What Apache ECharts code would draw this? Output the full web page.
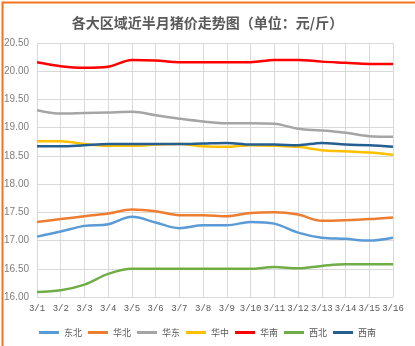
<!DOCTYPE html>
<html>
<head>
<meta charset="utf-8">
<script src="https://cdn.jsdelivr.net/npm/echarts@6/dist/echarts.min.js"></script>
<style>
  html, body { margin: 0; padding: 0; background: #fff; }
  #chart { width: 415px; height: 346px; }
</style>
</head>
<body>
<div id="chart"></div>
<script>
// Dates along the horizontal axis
const dates = ['3/1','3/2','3/3','3/4','3/5','3/6','3/7','3/8','3/9','3/10','3/11','3/12','3/13','3/14','3/15','3/16'];

// Pig price (yuan per jin) by region
const dongbei = [17.07,17.16,17.26,17.29,17.42,17.32,17.22,17.27,17.27,17.33,17.30,17.14,17.05,17.03,17.00,17.05];
const huabei  = [17.33,17.38,17.43,17.48,17.55,17.52,17.45,17.45,17.43,17.49,17.50,17.46,17.35,17.36,17.38,17.41];
const huadong = [19.31,19.25,19.26,19.27,19.28,19.22,19.16,19.11,19.08,19.08,19.07,18.98,18.95,18.91,18.85,18.84];
const huazhong= [18.76,18.76,18.71,18.68,18.68,18.70,18.71,18.67,18.66,18.69,18.68,18.66,18.60,18.58,18.56,18.52];
const huanan  = [20.16,20.09,20.06,20.08,20.20,20.19,20.16,20.16,20.16,20.16,20.20,20.20,20.17,20.15,20.13,20.13];
const xibei   = [16.09,16.12,16.22,16.41,16.50,16.50,16.50,16.50,16.50,16.50,16.53,16.51,16.55,16.58,16.58,16.58];
const xinan   = [18.67,18.67,18.69,18.71,18.71,18.71,18.71,18.72,18.73,18.70,18.70,18.69,18.73,18.70,18.69,18.66];

const regionNames = ['东北','华北','华东','华中','华南','西北','西南'];
const regionData = [dongbei, huabei, huadong, huazhong, huanan, xibei, xinan];
const regionColors = ['#5B9BD5','#ED7D31','#A5A5A5','#FFC000','#FF0000','#70AD47','#255E91'];

const chart = echarts.init(document.getElementById('chart'), null, { renderer: 'canvas' });

chart.setOption({
  animation: false,
  backgroundColor: '#fff',
  title: {
    text: '各大区域近半月猪价走势图（单位：元/斤）',
    left: 'center',
    top: 11,
    textStyle: { fontSize: 14, fontWeight: 'bold', color: '#595959', fontFamily: 'Noto Sans CJK SC' }
  },
  graphic: [{
    type: 'rect',
    left: 0, top: 0,
    shape: { x: 0, y: 0, width: 414, height: 345 },
    style: { fill: 'none', stroke: '#F7731C', lineWidth: 2 },
    silent: true
  }],
  legend: {
    top: 323,
    left: 'center',
    icon: 'rect',
    itemWidth: 20,
    itemHeight: 3,
    itemGap: 6,
    textStyle: { fontSize: 9, color: '#595959', fontFamily: 'Noto Sans CJK SC' },
    data: regionNames
  },
  grid: { left: 37, right: 22, top: 43, bottom: 49, containLabel: false },
  xAxis: {
    type: 'category',
    data: dates,
    boundaryGap: false,
    axisLine: { lineStyle: { color: '#D9D9D9' } },
    axisTick: { show: false },
    axisLabel: { color: '#595959', fontSize: 9, fontFamily: 'Liberation Mono', margin: 7, interval: 0 },
    splitLine: { show: true, lineStyle: { color: '#D9D9D9', width: 1 } }
  },
  yAxis: {
    type: 'value',
    min: 16,
    max: 20.5,
    interval: 0.5,
    axisLine: { show: false },
    axisTick: { show: false },
    axisLabel: {
      color: '#7F7F7F', fontSize: 10, fontFamily: 'Liberation Sans', margin: 8,
      formatter: v => v.toFixed(2)
    },
    splitLine: { lineStyle: { color: '#D9D9D9', width: 1 } }
  },
  series: regionNames.map((name, i) => ({
    name,
    type: 'line',
    data: regionData[i],
    smooth: 0.35,
    showSymbol: false,
    symbol: 'none',
    lineStyle: { width: 2.5, color: regionColors[i] },
    itemStyle: { color: regionColors[i] }
  }))
});
</script>
</body>
</html>
